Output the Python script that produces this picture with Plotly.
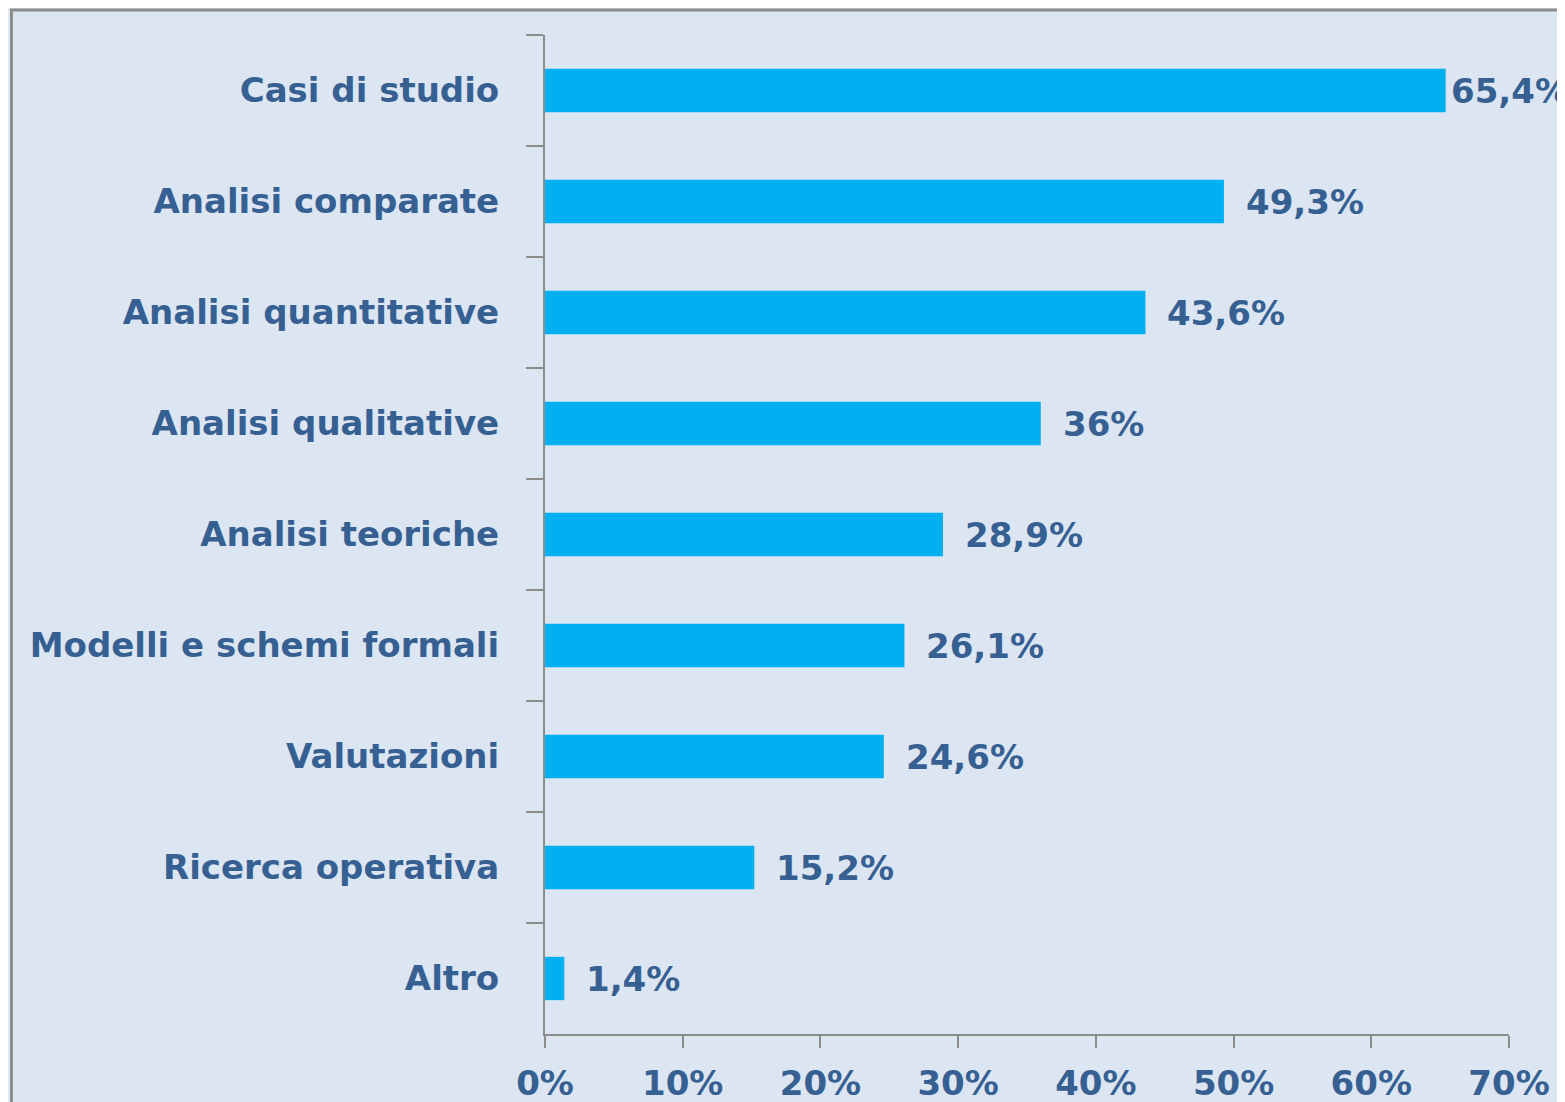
import plotly.graph_objects as go

categories = [
    "Casi di studio",
    "Analisi comparate",
    "Analisi quantitative",
    "Analisi qualitative",
    "Analisi teoriche",
    "Modelli e schemi formali",
    "Valutazioni",
    "Ricerca operativa",
    "Altro",
]
values = [65.4, 49.3, 43.6, 36.0, 28.9, 26.1, 24.6, 15.2, 1.4]
tick_values = [0, 10, 20, 30, 40, 50, 60, 70]
tick_labels = ["0%", "10%", "20%", "30%", "40%", "50%", "60%", "70%"]

TEXT_COLOR = "#376092"
BAR_COLOR = "#00B0F0"
AXIS_COLOR = "#8C8C8C"
FONT = "DejaVu Sans"
SIZE = 34


def fmt(v):
    # Italian style: comma as decimal separator, no trailing ",0"
    s = f"{v:.1f}".replace(".", ",")
    return s[:-2] + "%" if s.endswith(",0") else s + "%"


label_font = dict(family=FONT, size=SIZE, color=TEXT_COLOR, weight="bold")

fig = go.Figure(
    go.Bar(
        x=values,
        y=categories,
        orientation="h",
        width=0.39,
        marker=dict(color=BAR_COLOR, line=dict(width=0)),
    )
)

for v, c in zip(values, categories):
    fig.add_annotation(
        x=v, y=c, text=fmt(v), showarrow=False,
        xanchor="left", yanchor="middle",
        xshift=3 if v > 60 else 20,
        font=label_font,
    )

# chart area frame (grey border on left / top)
fig.add_shape(
    type="rect", xref="paper", yref="paper",
    x0=-0.5535, x1=1.2, y0=-0.2, y1=1.025,
    fillcolor="#DCE6F2", line=dict(color=AXIS_COLOR, width=3),
    layer="below",
)

fig.update_layout(
    width=1557,
    height=1094,
    margin=dict(l=537, r=56, t=27, b=68),
    paper_bgcolor="#E2ECF7",
    plot_bgcolor="rgba(0,0,0,0)",
    showlegend=False,
    font=label_font,
    xaxis=dict(
        range=[0, 70],
        tickvals=tick_values,
        ticktext=tick_labels,
        showgrid=False,
        zeroline=False,
        showline=True,
        linecolor=AXIS_COLOR,
        linewidth=2,
        ticks="outside",
        ticklen=12,
        tickwidth=2,
        tickcolor=AXIS_COLOR,
        ticklabelstandoff=6,
        automargin=False,
        tickfont=label_font,
    ),
    yaxis=dict(
        autorange="reversed",
        showgrid=False,
        zeroline=False,
        showline=True,
        linecolor=AXIS_COLOR,
        linewidth=2,
        ticks="outside",
        tickson="boundaries",
        ticklen=17,
        tickwidth=2,
        tickcolor=AXIS_COLOR,
        ticklabelstandoff=37,
        automargin=False,
        tickfont=label_font,
    ),
)

fig.write_html("out.html")
